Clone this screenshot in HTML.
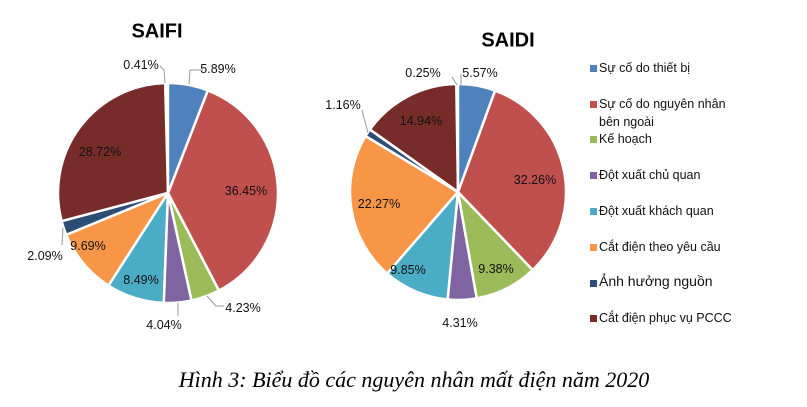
<!DOCTYPE html><html><head><meta charset="utf-8"><style>
body{margin:0;width:807px;height:407px;background:#fff;overflow:hidden;position:relative;font-family:"Liberation Sans",sans-serif}
.l{position:absolute;font-size:12.5px;color:#111;transform:translate(-50%,-50%);white-space:nowrap}
.lg{position:absolute;left:599px;font-size:12.5px;color:#111;line-height:18px}
.sq{position:absolute;left:590px;width:7px;height:7px}
</style></head><body>
<svg id="s" width="807" height="407" style="position:absolute;left:0;top:0">
<g stroke="#999" stroke-width="1" fill="none">
<polyline points="189,84 190,70 203,70"/>
<polyline points="165,83 164,70 160,66"/>
<polyline points="207,296 216,306 224,306"/>
<line x1="178" y1="303" x2="178" y2="316"/>
<polyline points="63,228 62,245"/>
<polyline points="461,85 461,74"/>
<polyline points="457,85 452,77"/>
<polyline points="368,133 362,110"/>
</g>
</svg>
<div style="position:absolute;left:157px;top:32px;transform:translate(-50%,-50%);font-weight:bold;font-size:20px">SAIFI</div>
<div style="position:absolute;left:508px;top:41px;transform:translate(-50%,-50%);font-weight:bold;font-size:20px">SAIDI</div>
<div class="l" style="left:218px;top:69px">5.89%</div>
<div class="l" style="left:141px;top:65px">0.41%</div>
<div class="l" style="left:246px;top:191px">36.45%</div>
<div class="l" style="left:100px;top:152px">28.72%</div>
<div class="l" style="left:88px;top:246px">9.69%</div>
<div class="l" style="left:141px;top:280px">8.49%</div>
<div class="l" style="left:45px;top:256px">2.09%</div>
<div class="l" style="left:164px;top:325px">4.04%</div>
<div class="l" style="left:243px;top:308px">4.23%</div>
<div class="l" style="left:423px;top:73px">0.25%</div>
<div class="l" style="left:480px;top:73px">5.57%</div>
<div class="l" style="left:343px;top:105px">1.16%</div>
<div class="l" style="left:421px;top:121px">14.94%</div>
<div class="l" style="left:535px;top:180px">32.26%</div>
<div class="l" style="left:379px;top:204px">22.27%</div>
<div class="l" style="left:408px;top:270px">9.85%</div>
<div class="l" style="left:496px;top:269px">9.38%</div>
<div class="l" style="left:460px;top:323px">4.31%</div>
<div class="sq" style="top:65px;background:#4f81bd"></div><div class="lg" style="top:59px">Sự cố do thiết bị</div>
<div class="sq" style="top:101px;background:#c0504d"></div><div class="lg" style="top:95px">Sự cố do nguyên nhân<br>bên ngoài</div>
<div class="sq" style="top:136px;background:#9bbb59"></div><div class="lg" style="top:130px">Kế hoạch</div>
<div class="sq" style="top:172px;background:#8064a2"></div><div class="lg" style="top:166px">Đột xuất chủ quan</div>
<div class="sq" style="top:208px;background:#4bacc6"></div><div class="lg" style="top:202px">Đột xuất khách quan</div>
<div class="sq" style="top:244px;background:#f79646"></div><div class="lg" style="top:238px">Cắt điện theo yêu cầu</div>
<div class="sq" style="top:280px;background:#2c4d75"></div><div class="lg" style="top:272px;font-size:14px">Ảnh hưởng nguồn</div>
<div class="sq" style="top:315px;background:#772c2a"></div><div class="lg" style="top:309px">Cắt điện phục vụ PCCC</div>
<div style="position:absolute;left:414px;top:380px;transform:translate(-50%,-50%);font-family:'Liberation Serif',serif;font-style:italic;font-size:22px;white-space:nowrap">Hình 3: Biểu đồ các nguyên nhân mất điện năm 2020</div>
<script>
var C=["#4f81bd","#c0504d","#9bbb59","#8064a2","#4bacc6","#f79646","#2c4d75","#772c2a","#d8d3a8"];
function pie(cx,cy,r,v){var s=document.getElementById('s'),a=0,t=v.reduce((x,y)=>x+y);
v.forEach(function(x,i){var b=a+x/t*2*Math.PI;
var p=document.createElementNS('http://www.w3.org/2000/svg','path');
var x1=cx+r*Math.sin(a),y1=cy-r*Math.cos(a),x2=cx+r*Math.sin(b),y2=cy-r*Math.cos(b);
p.setAttribute('d','M'+cx+','+cy+'L'+x1+','+y1+'A'+r+','+r+' 0 '+((b-a)>Math.PI?1:0)+' 1 '+x2+','+y2+'Z');
p.setAttribute('fill',C[i]);p.setAttribute('stroke','#fff');p.setAttribute('stroke-width','2.5');p.setAttribute('stroke-linejoin','round');
s.insertBefore(p,s.firstChild);a=b;});}
pie(168,193,110,[5.89,36.45,4.23,4.04,8.49,9.69,2.09,28.72,0.41]);
pie(458,192,108,[5.57,32.26,9.38,4.31,9.85,22.27,1.16,14.94,0.25]);
</script>
</body></html>
